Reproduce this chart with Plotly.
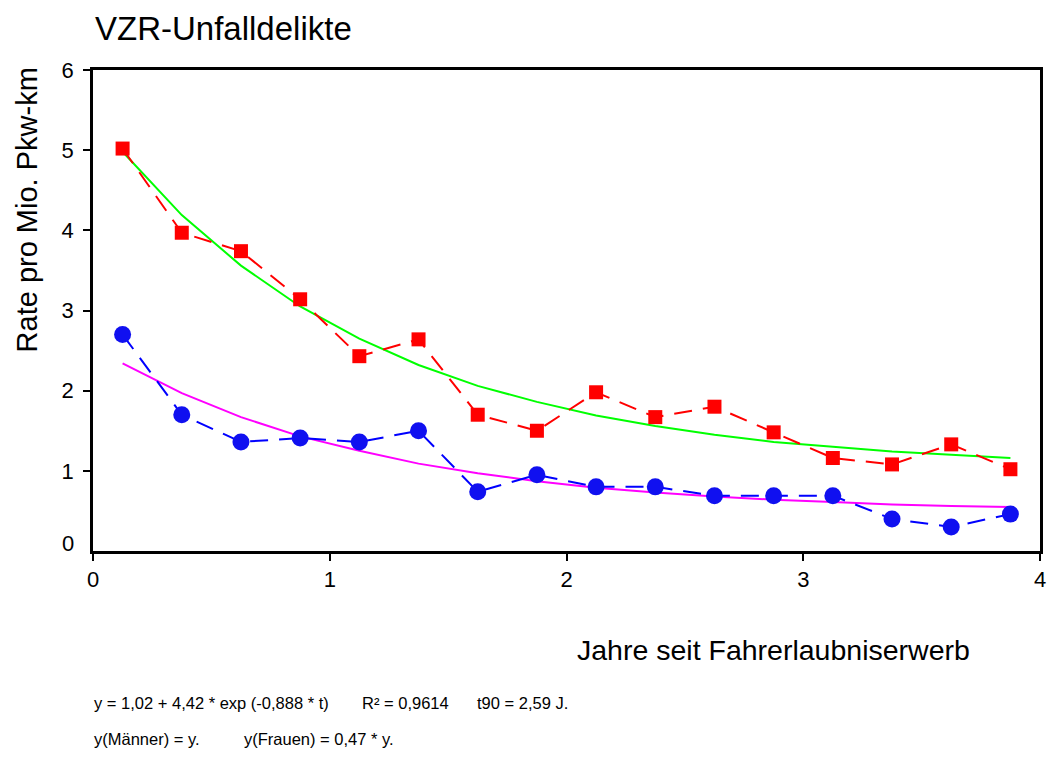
import plotly.graph_objects as go

# Data
jahre = [0.125, 0.375, 0.625, 0.875, 1.125, 1.375, 1.625, 1.875,
         2.125, 2.375, 2.625, 2.875, 3.125, 3.375, 3.625, 3.875]
maenner = [5.02, 3.97, 3.74, 3.14, 2.43, 2.64, 1.70, 1.50,
           1.98, 1.67, 1.80, 1.48, 1.16, 1.08, 1.33, 1.02]
frauen = [2.70, 1.70, 1.36, 1.41, 1.36, 1.50, 0.74, 0.95,
          0.80, 0.80, 0.69, 0.69, 0.69, 0.40, 0.30, 0.46]
fit_maenner = [4.98, 4.19, 3.56, 3.05, 2.65, 2.32, 2.06, 1.86,
               1.69, 1.56, 1.45, 1.36, 1.30, 1.24, 1.20, 1.16]
fit_frauen = [2.34, 1.97, 1.67, 1.43, 1.25, 1.09, 0.97, 0.87,
              0.79, 0.73, 0.68, 0.64, 0.61, 0.58, 0.56, 0.55]
x_ticks = [0, 1, 2, 3, 4]
y_ticks = [1, 2, 3, 4, 5, 6]

W, H = 1053, 757
L, R, T, B = 93, 7, 70, 206
PW, PH = W - L - R, H - T - B
FONT = "Liberation Sans, Arial, sans-serif"


def px(x):
    return (x - L) / PW


def py(y):
    return (H - B - y) / PH


fig = go.Figure()
fig.add_trace(go.Scatter(x=jahre, y=fit_maenner, mode="lines",
                         line=dict(color="#00FF00", width=2), showlegend=False))
fig.add_trace(go.Scatter(x=jahre, y=fit_frauen, mode="lines",
                         line=dict(color="#FF00FF", width=2), showlegend=False))
fig.add_trace(go.Scatter(x=jahre, y=maenner, mode="lines+markers",
                         line=dict(color="#FF0000", width=2, dash="18px,11px"),
                         marker=dict(symbol="square", size=14, color="#FF0000"),
                         showlegend=False))
fig.add_trace(go.Scatter(x=jahre, y=frauen, mode="lines+markers",
                         line=dict(color="#0000FF", width=2, dash="18px,11px"),
                         marker=dict(symbol="circle", size=17, color="#1010F0"),
                         showlegend=False))

TICKSIZE = 22
axis_common = dict(showgrid=False, zeroline=False, showline=True, linecolor="black",
                   linewidth=2.5, mirror=True, ticks="outside", ticklen=7, tickwidth=2,
                   tickcolor="black", tickfont=dict(family=FONT, size=TICKSIZE, color="black"))
fig.update_xaxes(range=[0, 4], tickvals=x_ticks, ticklabelstandoff=0, **axis_common)
fig.update_yaxes(range=[0, 6], tickvals=y_ticks, ticklabelstandoff=5, **axis_common)

ann = []
ann.append(dict(text="0", x=px(76), y=py(543), xref="paper", yref="paper",
                xanchor="right", yanchor="middle", showarrow=False,
                font=dict(family=FONT, size=TICKSIZE, color="black")))
ann.append(dict(text="Rate pro Mio. Pkw-km", x=px(27), y=py(210), xref="paper", yref="paper",
                textangle=-90, xanchor="center", yanchor="middle", showarrow=False,
                font=dict(family=FONT, size=29, color="black")))
ann.append(dict(text="Jahre seit Fahrerlaubniserwerb", x=px(778), y=py(650), xref="paper",
                yref="paper", xanchor="center", yanchor="middle", showarrow=False,
                font=dict(family=FONT, size=28.5, color="black")))
small = dict(family=FONT, size=16.5, color="black")
for txt, x0, y0 in [("y = 1,02 + 4,42 * exp (-0,888 * t)", 92, 703),
                    ("R² = 0,9614", 362, 703),
                    ("t90 = 2,59 J.", 477, 703),
                    ("y(Männer) = y.", 92, 739),
                    ("y(Frauen) = 0,47 * y.", 243, 739)]:
    ann.append(dict(text=txt, x=px(x0), y=py(y0), xref="paper", yref="paper",
                    xanchor="left", yanchor="middle", showarrow=False, font=small))

fig.update_layout(
    width=W, height=H,
    margin=dict(l=L, r=R, t=T, b=B),
    plot_bgcolor="white", paper_bgcolor="white",
    title=dict(text="VZR-Unfalldelikte", x=95 / W, xanchor="left", xref="container",
               y=1 - 28 / H, yanchor="middle", yref="container",
               font=dict(family=FONT, size=33, color="black")),
    annotations=ann,
)

fig.write_html("out.html", config={"displayModeBar": False},
               post_script="document.body.style.margin='0';document.body.style.overflow='hidden';")
